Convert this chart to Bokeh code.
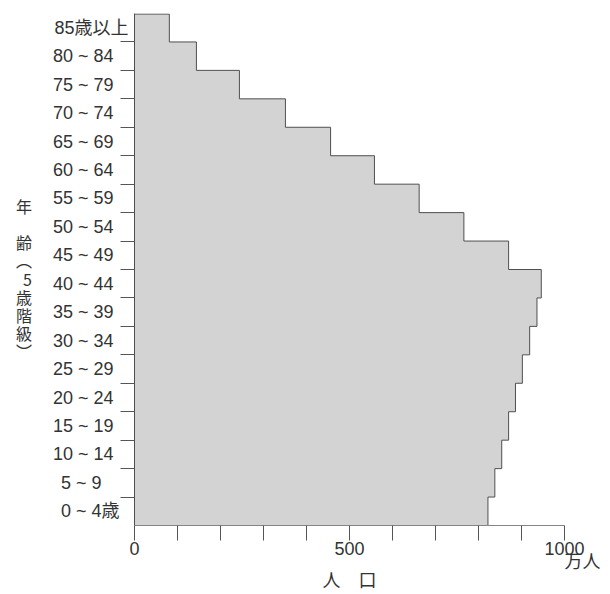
from bokeh.plotting import figure
from bokeh.models import Range1d, FixedTicker
from bokeh.embed import file_html
from bokeh.resources import INLINE

# ---------------- data ----------------
age_groups = ["0 ~ 4歳", "5 ~ 9", "10 ~ 14", "15 ~ 19", "20 ~ 24", "25 ~ 29",
              "30 ~ 34", "35 ~ 39", "40 ~ 44", "45 ~ 49", "50 ~ 54", "55 ~ 59",
              "60 ~ 64", "65 ~ 69", "70 ~ 74", "75 ~ 79", "80 ~ 84", "85歳以上"]
population = [822, 838, 854, 870, 886, 902, 919, 936, 946, 870,
              766, 662, 558, 456, 351, 244, 144, 81]   # 万人
x_ticks = [0, 500, 1000]
x_minor_ticks = [100, 200, 300, 400, 600, 700, 800, 900]
x_unit = "万人"
x_title = "人　口"
y_title = ["年", "　", "齢", "︵", "5", "歳", "階", "級", "︶"]

# ---------------- layout ----------------
FONT = "Liberation Sans, Noto Sans CJK JP"
CJK = "Noto Sans CJK JP"
TXT = "#333333"
W, H = 610, 594
BL, BR, BT, BB = 134, 46, 13, 69
n = len(age_groups)

p = figure(width=W, height=H, x_range=Range1d(0, 1000), y_range=Range1d(-0.5, n - 0.5),
           output_backend="svg", toolbar_location=None,
           min_border_left=BL, min_border_right=BR, min_border_top=BT, min_border_bottom=BB)
p.outline_line_color = None
p.xgrid.visible = False
p.ygrid.visible = False
p.background_fill_color = "white"

# filled step area (band i spans i-0.5 .. i+0.5)
xs, ys = [0], [-0.5]
for i, v in enumerate(population):
    xs += [v, v]
    ys += [i - 0.5, i + 0.5]
xs.append(0)
ys.append(n - 0.5)
p.patch(xs, ys, fill_color="#d3d3d3", line_color=None)

# outline
top = n - 0.5 - 0.02
lx, ly = [0], [top]
for i in reversed(range(n)):
    lx += [population[i], population[i]]
    ly += [min(i + 0.5, top), i - 0.5]
p.line(lx, ly, line_color="#4f4f4f", line_width=1)

# x axis
xa = p.xaxis[0]
xa.ticker = FixedTicker(ticks=x_ticks, minor_ticks=x_minor_ticks)
xa.major_label_overrides = {x_ticks[-1]: f"{x_ticks[-1]}\n\u3000\u3000{x_unit}"}
xa.axis_line_color = "#858585"
xa.major_tick_line_color = "#555555"
xa.minor_tick_line_color = "#555555"
xa.major_tick_out = 15
xa.major_tick_in = 0
xa.minor_tick_out = 15
xa.minor_tick_in = 0
xa.major_label_standoff = -2
xa.major_label_text_font = FONT
xa.major_label_text_font_size = "18px"
xa.major_label_text_color = TXT
xa.major_label_text_line_height = 0.67
xa.axis_label = x_title
xa.axis_label_text_font = FONT
xa.axis_label_text_font_size = "18px"
xa.axis_label_text_font_style = "normal"
xa.axis_label_text_color = TXT
xa.axis_label_standoff = -4

# y axis: labels at band centres, ticks at band boundaries
def padded(label):
    # trailing spaces so that the labels line up on the tilde
    if "~" not in label:
        return label
    right = label.split("~")[1].strip()
    if right.endswith("歳"):
        return label + "\u2002"
    if len(right) == 1:
        return label + "\u2003\u2002"
    return label + "\u2002\u2004"

ya = p.yaxis[0]
ya.ticker = FixedTicker(ticks=list(range(n)), minor_ticks=[i + 0.5 for i in range(n - 1)])
ya.major_label_overrides = {i: padded(g) for i, g in enumerate(age_groups)}
ya.axis_line_color = "#4f4f4f"
ya.major_tick_line_color = None
ya.major_tick_out = 0
ya.major_tick_in = 0
ya.minor_tick_line_color = "#555555"
ya.minor_tick_out = 14
ya.minor_tick_in = 0
ya.major_label_standoff = -8
ya.major_label_text_font = FONT
ya.major_label_text_font_size = "18px"
ya.major_label_text_color = TXT
ya.axis_label = "\n".join(["　"] + y_title)
ya.axis_label_orientation = "horizontal"
ya.axis_label_text_font = CJK
ya.axis_label_text_font_size = "16px"
ya.axis_label_text_font_style = "normal"
ya.axis_label_text_color = TXT
ya.axis_label_text_line_height = 0.755
ya.axis_label_standoff = 18

open("out.html", "w").write(file_html(p, INLINE))
